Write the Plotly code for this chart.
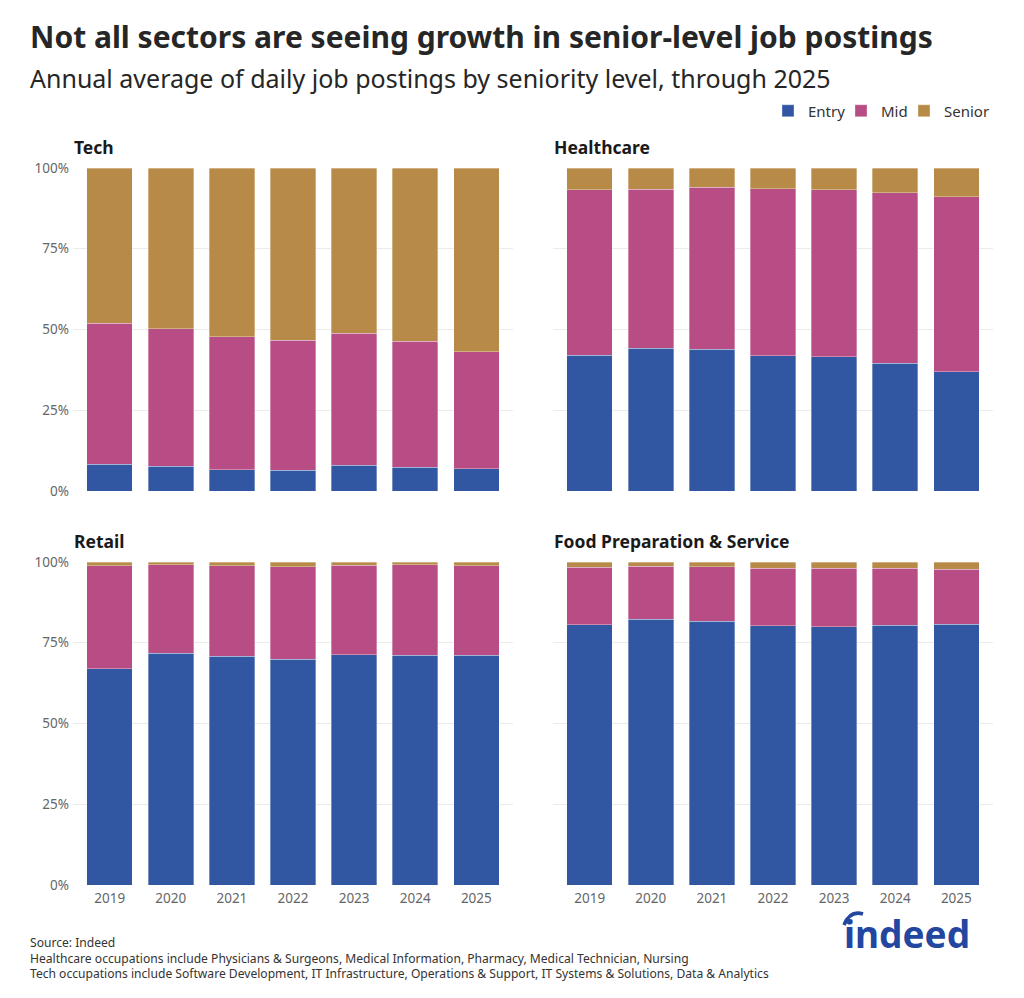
import plotly.graph_objects as go
from plotly.subplots import make_subplots

years = ["2019", "2020", "2021", "2022", "2023", "2024", "2025"]
levels = ["Entry", "Mid", "Senior"]
level_colors = ["#3157A3", "#B84C84", "#B88A47"]
sectors = ["Tech", "Healthcare", "Retail", "Food Preparation & Service"]

# Shares (%) of daily job postings by seniority level
tech_entry = [8.3, 7.7, 6.6, 6.4, 7.9, 7.4, 6.9]
tech_mid = [43.7, 42.5, 41.2, 40.3, 40.9, 38.9, 36.2]
tech_senior = [48.0, 49.8, 52.2, 53.3, 51.2, 53.7, 56.9]

health_entry = [42.0, 44.2, 43.9, 41.8, 41.6, 39.5, 36.9]
health_mid = [51.2, 49.3, 50.1, 51.8, 51.7, 52.9, 54.2]
health_senior = [6.8, 6.5, 6.0, 6.4, 6.7, 7.6, 8.9]

retail_entry = [67.0, 71.8, 70.8, 69.9, 71.3, 71.1, 71.2]
retail_mid = [31.8, 27.4, 28.1, 28.7, 27.7, 28.0, 27.7]
retail_senior = [1.2, 0.8, 1.1, 1.4, 1.0, 0.9, 1.1]

food_entry = [80.6, 82.3, 81.6, 80.3, 79.9, 80.4, 80.7]
food_mid = [17.7, 16.4, 16.9, 17.8, 18.2, 17.7, 17.1]
food_senior = [1.7, 1.3, 1.5, 1.9, 1.9, 1.9, 2.2]

y_ticks = [0, 25, 50, 75, 100]
y_tick_labels = ["0%", "25%", "50%", "75%", "100%"]

sector_data = [
    [tech_entry, tech_mid, tech_senior],
    [health_entry, health_mid, health_senior],
    [retail_entry, retail_mid, retail_senior],
    [food_entry, food_mid, food_senior],
]

W, H = 1024, 998
FONT = "Noto Sans"

fig = make_subplots(rows=2, cols=2)

legend_names = ["legend", "legend2", "legend3"]
positions = [(1, 1), (1, 2), (2, 1), (2, 2)]
for si, (r, c) in enumerate(positions):
    for li, lvl in enumerate(levels):
        fig.add_trace(
            go.Bar(
                x=years,
                y=sector_data[si][li],
                name=lvl,
                marker=dict(color=level_colors[li],
                            line=dict(color="rgba(255,255,255,0.55)", width=0.6)),
                showlegend=(si == 0),
                legendgroup=lvl,
                legend=legend_names[li],
            ),
            row=r, col=c,
        )

def px_x(v):
    return v / W

def px_y(v):
    return 1 - v / H

x_domains = [[px_x(73), px_x(513)], [px_x(553), px_x(993)]]
y_domains = [[px_y(491), px_y(168)], [px_y(885), px_y(562)]]

axis_font = dict(family=FONT, size=13.5, color="#666666")
for i, (r, c) in enumerate(positions):
    sfx = "" if i == 0 else str(i + 1)
    fig.layout["xaxis" + sfx].update(
        domain=x_domains[c - 1],
        range=[-0.6, 6.6],
        showgrid=False, zeroline=False, showline=False, ticks="",
        showticklabels=(r == 2),
        tickfont=axis_font, ticklabelstandoff=3,
        fixedrange=True, automargin=False,
    )
    fig.layout["yaxis" + sfx].update(
        domain=y_domains[r - 1],
        range=[0, 100],
        tickvals=y_ticks, ticktext=y_tick_labels,
        showgrid=True, gridcolor="#EBEBEB", gridwidth=1,
        zeroline=False, showline=False, ticks="",
        showticklabels=(c == 1),
        tickfont=axis_font, ticklabelstandoff=3,
        fixedrange=True, automargin=False,
    )

annotations = []
# title & subtitle
annotations.append(dict(text="<b>Not all sectors are seeing growth in senior-level job postings</b>",
                        x=px_x(28), y=px_y(37), xref="paper", yref="paper",
                        xanchor="left", yanchor="middle", showarrow=False,
                        font=dict(family=FONT, size=30, color="#262626")))
annotations.append(dict(text="Annual average of daily job postings by seniority level, through 2025",
                        x=px_x(28), y=px_y(78), xref="paper", yref="paper",
                        xanchor="left", yanchor="middle", showarrow=False,
                        font=dict(family=FONT, size=25, color="#262626")))
# panel titles
title_pos = [(72, 147), (552, 147), (72, 541), (552, 541)]
for name, (tx, ty) in zip(sectors, title_pos):
    annotations.append(dict(text="<b>" + name + "</b>", x=px_x(tx), y=px_y(ty),
                            xref="paper", yref="paper", xanchor="left", yanchor="middle",
                            showarrow=False, font=dict(family=FONT, size=17.5, color="#1a1a1a")))
# footer
footer = [
    "Source: Indeed",
    "Healthcare occupations include Physicians & Surgeons, Medical Information, Pharmacy, Medical Technician, Nursing",
    "Tech occupations include Software Development, IT Infrastructure, Operations & Support, IT Systems & Solutions, Data & Analytics",
]
annotations.append(dict(text="<br>".join(footer), x=px_x(28), y=px_y(958),
                        xref="paper", yref="paper", xanchor="left", yanchor="middle",
                        align="left", showarrow=False,
                        font=dict(family=FONT, size=12.1, color="#333333")))
# logo
annotations.append(dict(text="<b>indeed</b>", x=px_x(907), y=px_y(933),
                        xref="paper", yref="paper", xanchor="center", yanchor="middle",
                        showarrow=False, font=dict(family=FONT, size=37, color="#2346A0")))

shapes = [dict(type="path", xref="paper", yref="paper",
               path="M {} {} Q {} {} {} {}".format(px_x(844), px_y(925), px_x(850), px_y(910),
                                                    px_x(863), px_y(914)),
               line=dict(color="#2346A0", width=3.5))]

legend_text_start = [808, 881, 944]
legend_font = dict(family=FONT, size=15, color="#333333")
legend_layout = {}
for name, xs in zip(legend_names, legend_text_start):
    legend_layout[name] = dict(orientation="h", x=px_x(xs - 40), xanchor="left",
                               y=px_y(111), yanchor="middle", font=legend_font,
                               bgcolor="rgba(0,0,0,0)", itemclick=False,
                               itemdoubleclick=False)

fig.update_layout(
    width=W, height=H,
    margin=dict(l=0, r=0, t=0, b=0, pad=0, autoexpand=False),
    paper_bgcolor="white", plot_bgcolor="white",
    barmode="stack", bargap=0.255,
    font=dict(family=FONT, color="#333333"),
    annotations=annotations,
    shapes=shapes,
    **legend_layout,
)

fig.write_html("out.html", config={"displayModeBar": False})
